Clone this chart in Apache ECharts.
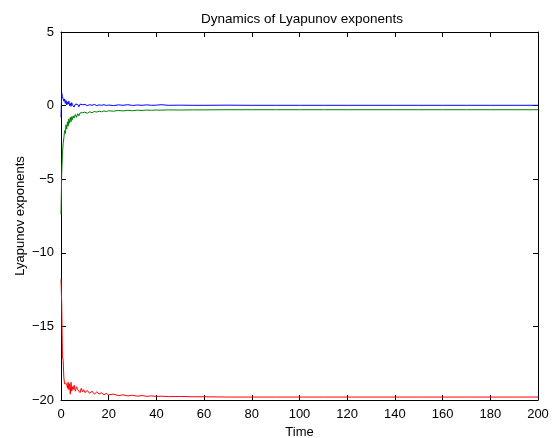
<!DOCTYPE html>
<html>
<head>
<meta charset="utf-8">
<script src="https://cdn.jsdelivr.net/npm/echarts@6/dist/echarts.min.js"></script>
<style>html,body{margin:0;padding:0;background:#fff}#c{width:554px;height:438px}</style>
</head>
<body>
<div id="c"></div>
<script>
const times = [0,0.3,0.6,0.9,1.2,1.5,1.8,2.1,2.4,2.7,3,3.3,3.6,3.9,4.2,4.5,4.8,5.1,5.5,6,6.5,7,7.5,8,8.5,9,9.5,10,11,12,13,14,15,16,17,18,19,20,22,24,26,28,30,32,34,36,38,40,42,45,50,55,60,70,80,90,100,110,120,130,140,150,160,170,180,190,200];
const lyap1 = [-0.8,0.85,0.6,0.7,0.3,0.45,0.15,0.35,0.05,0.25,0.1,0.3,0.0,0.15,-0.05,0.2,0.05,0.12,-0.1,0.1,0.0,0.08,-0.08,0.1,0.0,0.06,-0.02,0.08,0.0,0.06,0.02,0.08,0.0,0.05,0.02,0.06,0.01,0.04,0.0,0.05,0.02,0.06,0.01,0.04,0.02,0.05,0.02,0.03,0.06,0.02,0.03,0.02,0.02,0.03,0.02,0.02,0.02,0.02,0.02,0.02,0.02,0.02,0.02,0.02,0.02,0.02,0.02];
const lyap2 = [-7.4,-4.6,-3.3,-2.6,-2.2,-1.7,-1.9,-1.3,-1.6,-1.1,-1.4,-0.9,-1.2,-0.8,-1.1,-0.75,-0.95,-0.7,-0.85,-0.6,-0.8,-0.55,-0.7,-0.5,-0.62,-0.48,-0.58,-0.45,-0.52,-0.42,-0.48,-0.4,-0.44,-0.38,-0.42,-0.36,-0.4,-0.35,-0.38,-0.33,-0.36,-0.32,-0.35,-0.31,-0.33,-0.3,-0.32,-0.3,-0.31,-0.29,-0.3,-0.29,-0.29,-0.28,-0.28,-0.28,-0.28,-0.28,-0.28,-0.28,-0.28,-0.28,-0.28,-0.28,-0.28,-0.28,-0.28];
const lyap3 = [-11.8,-13.5,-17.0,-17.3,-18.5,-18.9,-18.8,-19.0,-18.9,-19.2,-18.8,-19.3,-18.9,-19.6,-18.8,-19.4,-19.1,-19.3,-19.0,-19.4,-19.1,-19.3,-19.2,-19.5,-19.2,-19.45,-19.3,-19.5,-19.35,-19.55,-19.4,-19.6,-19.45,-19.6,-19.5,-19.65,-19.55,-19.65,-19.6,-19.7,-19.65,-19.72,-19.68,-19.74,-19.7,-19.75,-19.72,-19.76,-19.74,-19.77,-19.76,-19.78,-19.78,-19.8,-19.8,-19.8,-19.8,-19.8,-19.8,-19.8,-19.8,-19.8,-19.8,-19.8,-19.8,-19.8,-19.8];
const xTicks = [0,20,40,60,80,100,120,140,160,180,200];
const yTicks = [-20,-15,-10,-5,0,5];

const font = 'Liberation Sans, Arial, sans-serif';
const pair = arr => times.map((t, i) => [t, arr[i]]);
const minus = v => String(v).replace('-', '\u2212');
const lineAxis = {show: true, onZero: false, lineStyle: {color: '#000', width: 1}};
const tick = {show: true, inside: true, length: 5, lineStyle: {color: '#000', width: 1}};
const fs = 13;

const chart = echarts.init(document.getElementById('c'), null, {renderer: 'canvas'});
chart.setOption({
  animation: false,
  backgroundColor: '#fff',
  title: {text: 'Dynamics of Lyapunov exponents', left: 297, top: 7, textAlign: 'center',
    textStyle: {fontFamily: font, fontSize: 13.5, fontWeight: 'normal', color: '#000'}},
  grid: {left: 61, right: 16, top: 32, bottom: 38, containLabel: false, outerBoundsMode: 'none'},
  xAxis: [
    {type: 'value', min: xTicks[0], max: xTicks[xTicks.length - 1], interval: 20, position: 'bottom',
      name: 'Time', nameLocation: 'middle', nameGap: 26, nameMoveOverlap: false,
      nameTextStyle: {fontFamily: font, fontSize: fs, color: '#000'},
      axisLine: lineAxis, axisTick: tick, splitLine: {show: false},
      axisLabel: {fontFamily: font, fontSize: fs, color: '#000', margin: 8}},
    {type: 'value', min: xTicks[0], max: xTicks[xTicks.length - 1], interval: 20, position: 'top',
      axisLine: lineAxis, axisTick: tick, splitLine: {show: false}, axisLabel: {show: false}}
  ],
  yAxis: [
    {type: 'value', min: yTicks[0], max: yTicks[yTicks.length - 1], interval: 5, position: 'left',
      name: 'Lyapunov exponents', nameLocation: 'middle', nameGap: 34, nameRotate: 90, nameMoveOverlap: false,
      nameTextStyle: {fontFamily: font, fontSize: fs, color: '#000'},
      axisLine: lineAxis, axisTick: tick, splitLine: {show: false},
      axisLabel: {fontFamily: font, fontSize: fs, color: '#000', margin: 7, formatter: minus}},
    {type: 'value', min: yTicks[0], max: yTicks[yTicks.length - 1], interval: 5, position: 'right',
      axisLine: lineAxis, axisTick: tick, splitLine: {show: false}, axisLabel: {show: false}}
  ],
  series: [
    {type: 'line', data: pair(lyap1), showSymbol: false, lineStyle: {color: '#0000ff', width: 1}, itemStyle: {color: '#0000ff'}},
    {type: 'line', data: pair(lyap2), showSymbol: false, lineStyle: {color: '#008000', width: 1}, itemStyle: {color: '#008000'}},
    {type: 'line', data: pair(lyap3), showSymbol: false, lineStyle: {color: '#ff0000', width: 1}, itemStyle: {color: '#ff0000'}}
  ]
});
</script>
</body>
</html>
